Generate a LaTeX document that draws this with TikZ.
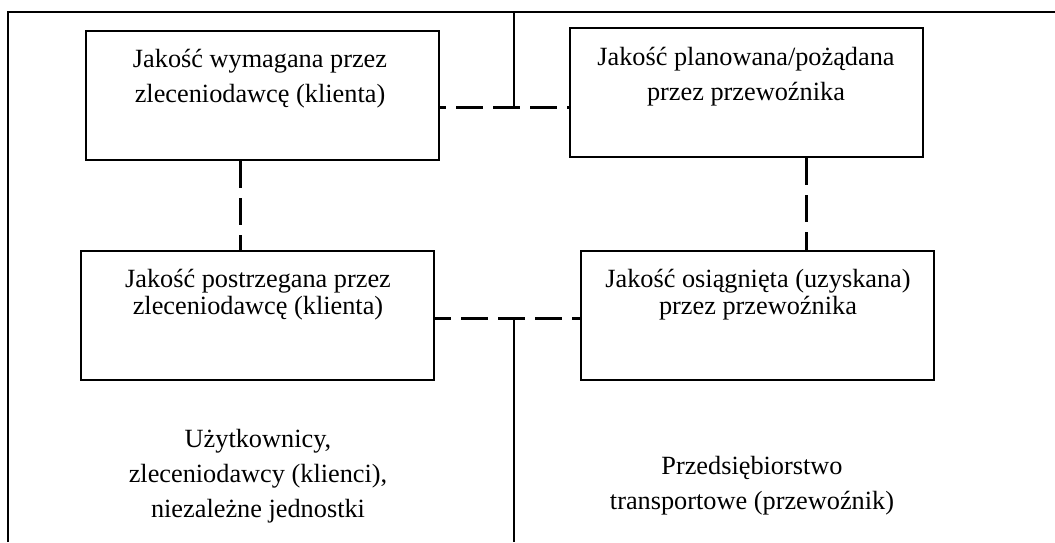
\documentclass[tikz,border=0pt]{standalone}
\usepackage{fontspec}
\setmainfont{Liberation Serif}
\begin{document}
\begin{tikzpicture}[x=1pt,y=-1pt,
  box/.style={draw, line width=2pt, rectangle, inner sep=0pt,
    minimum width=353pt, minimum height=129pt},
  txt/.style={align=center, inner sep=0pt, anchor=base,
    font=\fontsize{26.3}{35}\selectfont},
  tighttxt/.style={txt, font=\fontsize{26.3}{27}\selectfont},
  frameline/.style={line width=1.8pt},
  dashline/.style={line width=3pt, dash pattern=on 27pt off 10pt}]
\useasboundingbox (0,0) rectangle (1055,542);

% outer frame (open at the bottom and on the right)
\coordinate (fbl) at (8,542);
\coordinate (ftl) at (8,12);
\coordinate (ftr) at (1055,12);
\draw[frameline] (fbl) -- (ftl) -- (ftr);

% quality boxes
\node[box] (b1) at (262.5,95.5) {};
\node[box] (b2) at (746.5,92.5) {};
\node[box] (b3) at (257.5,315.5) {};
\node[box] (b4) at (757.5,315.5) {};

\node[txt] (t1) at (260,102) {Jakość wymagana przez\\zleceniodawcę (klienta)};
\node[txt] (t2) at (746,100) {Jakość planowana/pożądana\\przez przewoźnika};
\node[tighttxt] (t3) at (258,314) {Jakość postrzegana przez\\zleceniodawcę (klienta)};
\node[tighttxt] (t4) at (758,314) {Jakość osiągnięta (uzyskana)\\przez przewoźnika};

% side captions
\node[txt] (s1) at (258,517) {Użytkownicy,\\zleceniodawcy (klienci),\\niezależne jednostki};
\node[txt] (s2) at (752,509) {Przedsiębiorstwo\\transportowe (przewoźnik)};

% junctions and dashed relations
\coordinate (j1) at (514,107);
\coordinate (j2) at (514,318);
\coordinate (v1) at (240,0);
\coordinate (v2) at (806,0);

\draw[dashline, dash phase=21pt] (b1.east |- j1) -- (b2.west |- j1);
\draw[dashline, dash phase=11pt] (b3.east |- j2) -- (b4.west |- j2);
\draw[dashline] (b1.south -| v1) -- (b3.north -| v1);
\draw[dashline] (b2.south -| v2) -- (b4.north -| v2);

% dividing line between the two sides
\draw[frameline] (j1) -- (j1 |- ftl);
\draw[frameline] (j2) -- (j2 |- fbl);
\end{tikzpicture}
\end{document}
